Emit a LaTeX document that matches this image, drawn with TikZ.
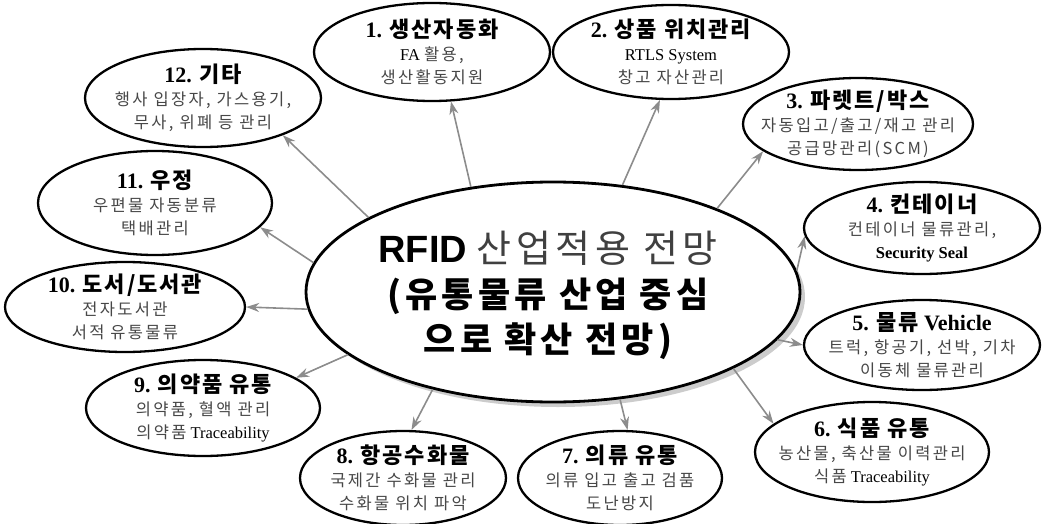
\documentclass[tikz,border=0pt]{standalone}
\usepackage{fontspec}
\setmainfont{Liberation Serif}
\newfontfamily\kr{Noto Sans CJK KR}
\newfontfamily\krs{Noto Sans CJK KR}[LetterSpace=14]
\newfontfamily\krt{Noto Sans CJK KR}[LetterSpace=9]
\newfontfamily\krc{Noto Sans CJK KR}[LetterSpace=12]
\newfontfamily\arl{Liberation Sans}
\usetikzlibrary{shapes.geometric,arrows.meta,shadows}
\newcommand\ttl[2]{{\fontsize{22}{25}\selectfont\bfseries #1 {\krt #2}}}
\newcommand\kk[1]{{\krs\color{black!72}#1}}
\tikzset{
  oval/.style={ellipse, draw=black, line width=2.3pt, fill=white, inner sep=0pt},
  ovtext/.style={align=center, inner sep=0pt, font=\fontsize{16.5}{23}\selectfont},
  arr/.style={draw=black!45, line width=1.6pt, -{Stealth[length=13pt,width=9pt]}},
}
\begin{document}
\begin{tikzpicture}[x=1pt,y=-1pt]
\useasboundingbox (0,0) rectangle (1043,524);
% central
\node[oval, line width=2.8pt, minimum width=494pt, minimum height=220pt,
  drop shadow={shadow xshift=5pt, shadow yshift=-5pt, fill=black!40}] (c) at (553,292) {};
\node[align=center, inner sep=0pt, font=\fontsize{35}{45}\selectfont] (ct) at (548,295) {%
  {\fontsize{38}{45}\selectfont{\arl\bfseries RFID} {\krc\color{black!75} 산업적용 전망}}\\
  {\krc\bfseries (유통물류 산업 중심}\\
  {\krc\bfseries 으로 확산 전망)}};
% outer ellipses
\node[oval, minimum width=236pt, minimum height=98pt] (o1) at (432,52) {};
\node[oval, minimum width=236pt, minimum height=94pt] (o2) at (671,52) {};
\node[oval, minimum width=230pt, minimum height=92pt] (o3) at (858,124) {};
\node[oval, minimum width=236pt, minimum height=92pt] (o4) at (922,228) {};
\node[oval, minimum width=236pt, minimum height=90pt] (o5) at (922,345) {};
\node[oval, minimum width=234pt, minimum height=100pt] (o6) at (872,452) {};
\node[oval, minimum width=204pt, minimum height=94pt] (o7) at (620,478) {};
\node[oval, minimum width=206pt, minimum height=94pt] (o8) at (403,478) {};
\node[oval, minimum width=234pt, minimum height=96pt] (o9) at (203,408) {};
\node[oval, minimum width=240pt, minimum height=90pt] (o10) at (125,307) {};
\node[oval, minimum width=234pt, minimum height=104pt] (o11) at (155,203) {};
\node[oval, minimum width=236pt, minimum height=98pt] (o12) at (203,98) {};
% texts
\node[ovtext] (t1) at (o1) {\ttl{1.}{생산자동화}\\ FA \kk{활용,}\\ \kk{생산활동지원}};
\node[ovtext] (t2) at (o2) {\ttl{2.}{상품 위치관리}\\ RTLS System\\ \kk{창고 자산관리}};
\node[ovtext] (t3) at (o3) {\ttl{3.}{파렛트/박스}\\ \kk{자동입고/출고/재고 관리}\\ \kk{공급망관리(SCM)}};
\node[ovtext] (t4) at (o4) {\ttl{4.}{컨테이너}\\ \kk{컨테이너 물류관리,}\\ {\bfseries Security Seal}};
\node[ovtext] (t5) at (o5) {{\fontsize{22}{25}\selectfont\bfseries 5. {\krt 물류} Vehicle}\\ \kk{트럭, 항공기, 선박, 기차}\\ \kk{이동체 물류관리}};
\node[ovtext] (t6) at (o6) {\ttl{6.}{식품 유통}\\ \kk{농산물, 축산물 이력관리}\\ \kk{식품} Traceability};
\node[ovtext] (t7) at (o7) {\ttl{7.}{의류 유통}\\ \kk{의류 입고 출고 검품}\\ \kk{도난방지}};
\node[ovtext] (t8) at (o8) {\ttl{8.}{항공수화물}\\ \kk{국제간 수화물 관리}\\ \kk{수화물 위치 파악}};
\node[ovtext] (t9) at (o9) {\ttl{9.}{의약품 유통}\\ \kk{의약품, 혈액 관리}\\ \kk{의약품} Traceability};
\node[ovtext] (t10) at (o10) {\ttl{10.}{도서/도서관}\\ \kk{전자도서관}\\ \kk{서적 유통물류}};
\node[ovtext] (t11) at (o11) {\ttl{11.}{우정}\\ \kk{우편물 자동분류}\\ \kk{택배관리}};
\node[ovtext] (t12) at (o12) {\ttl{12.}{기타}\\ \kk{행사 입장자, 가스용기,}\\ \kk{무사, 위폐 등 관리}};
% arrows
\draw[arr] (c.128.8) -- (o1.-69.8);
\draw[arr] (c.57.2) -- (o2.-103.8);
\draw[arr] (c.27.3) -- (o3.-164.3);
\draw[arr] (c.5.6) -- (o4.-176.7);
\draw[arr] (c.-12.6) -- (o5.180);
\draw[arr] (c.-23.9) -- (o6.164.7);
\draw[arr] (c.-58.2) -- (o7.81);
\draw[arr] (c.-141.3) -- (o8.80);
\draw[arr] (c.-163.2) -- (o9.18.6);
\draw[arr] (c.-176.5) -- (o10.0);
\draw[arr] (c.173.2) -- (o11.-13.6);
\draw[arr] (c.158.9) -- (o12.-25.8);
\end{tikzpicture}
\end{document}
